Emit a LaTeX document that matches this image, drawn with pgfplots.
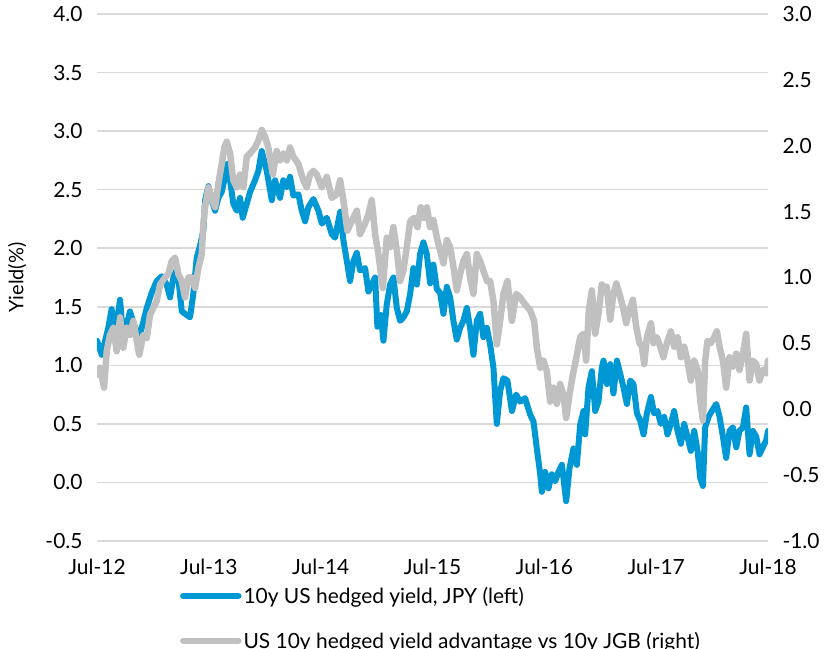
\documentclass[border=0pt]{standalone}
\usepackage{pgfplots}
\pgfplotsset{compat=1.18}
\usepackage{fontspec}
\setmainfont{Lato}
\definecolor{bl}{HTML}{0098D4}
\definecolor{gr}{HTML}{C0C0C0}
\definecolor{gridc}{HTML}{D9D9D9}
\pgfplotstableread{
t v
0.000 1.21
0.042 1.09
0.101 1.32
0.131 1.48
0.161 1.26
0.206 1.56
0.235 1.23
0.295 1.46
0.340 1.32
0.385 1.26
0.445 1.49
0.489 1.62
0.534 1.72
0.579 1.76
0.623 1.69
0.653 1.58
0.683 1.75
0.718 1.83
0.758 1.46
0.802 1.43
0.832 1.41
0.861 1.61
0.892 1.92
0.921 2.02
0.951 2.15
0.966 2.41
0.996 2.53
1.026 2.41
1.056 2.32
1.085 2.43
1.115 2.48
1.145 2.61
1.166 2.72
1.190 2.58
1.219 2.38
1.250 2.32
1.279 2.43
1.303 2.26
1.339 2.38
1.369 2.48
1.413 2.58
1.443 2.66
1.473 2.83
1.518 2.66
1.563 2.41
1.592 2.58
1.637 2.43
1.666 2.58
1.697 2.52
1.726 2.61
1.756 2.45
1.801 2.46
1.831 2.32
1.861 2.23
1.890 2.35
1.935 2.42
1.980 2.32
2.010 2.21
2.055 2.26
2.099 2.12
2.129 2.09
2.174 2.31
2.203 2.07
2.234 1.89
2.263 1.72
2.293 1.89
2.323 1.96
2.352 1.81
2.397 1.83
2.427 1.63
2.457 1.69
2.487 1.75
2.507 1.33
2.538 1.43
2.561 1.21
2.591 1.52
2.621 1.69
2.650 1.75
2.681 1.49
2.710 1.38
2.740 1.41
2.770 1.46
2.800 1.61
2.829 1.83
2.860 1.69
2.889 1.95
2.919 2.05
2.949 1.95
2.979 1.70
3.008 1.86
3.039 1.65
3.068 1.62
3.098 1.44
3.128 1.67
3.158 1.58
3.187 1.38
3.217 1.22
3.247 1.32
3.276 1.38
3.307 1.49
3.336 1.32
3.366 1.09
3.396 1.38
3.426 1.44
3.455 1.24
3.486 1.32
3.515 1.18
3.545 0.98
3.575 0.50
3.605 0.78
3.634 0.89
3.670 0.87
3.710 0.61
3.748 0.75
3.784 0.69
3.828 0.72
3.873 0.58
3.903 0.52
3.933 0.29
3.963 0.07
3.978 -0.08
4.007 0.09
4.037 -0.05
4.067 0.07
4.097 0.01
4.126 0.09
4.157 0.15
4.195 -0.16
4.225 0.12
4.260 0.29
4.291 0.15
4.320 0.49
4.350 0.61
4.365 0.41
4.395 0.81
4.425 0.95
4.455 0.61
4.484 0.69
4.514 0.98
4.529 1.04
4.559 0.84
4.589 1.01
4.618 0.76
4.649 1.04
4.678 0.93
4.708 0.81
4.738 0.67
4.768 0.87
4.797 0.84
4.828 0.59
4.857 0.53
4.887 0.41
4.917 0.59
4.953 0.73
4.982 0.59
5.012 0.61
5.042 0.50
5.072 0.56
5.101 0.41
5.131 0.50
5.161 0.61
5.191 0.44
5.221 0.33
5.250 0.50
5.280 0.39
5.310 0.27
5.340 0.44
5.370 0.27
5.394 0.04
5.418 -0.03
5.438 0.47
5.468 0.56
5.498 0.61
5.537 0.67
5.567 0.56
5.597 0.39
5.626 0.21
5.656 0.44
5.686 0.47
5.716 0.30
5.745 0.44
5.776 0.47
5.805 0.64
5.835 0.24
5.865 0.44
5.895 0.39
5.924 0.24
5.954 0.30
5.984 0.36
6.000 0.44
}\bluedata
\pgfplotstableread{
t v
0.000 0.262
0.027 0.315
0.063 0.164
0.087 0.440
0.116 0.564
0.146 0.618
0.176 0.440
0.206 0.698
0.235 0.467
0.266 0.618
0.295 0.564
0.325 0.671
0.355 0.520
0.378 0.413
0.414 0.564
0.445 0.538
0.474 0.716
0.504 0.769
0.534 0.822
0.564 0.947
0.608 1.000
0.638 1.027
0.668 1.124
0.698 1.151
0.727 1.027
0.758 0.973
0.787 0.849
0.817 1.000
0.847 1.000
0.877 0.920
0.906 1.071
0.937 1.178
0.951 1.409
0.966 1.533
0.996 1.684
1.026 1.604
1.056 1.533
1.085 1.711
1.115 1.862
1.139 1.987
1.160 2.031
1.190 1.942
1.219 1.738
1.250 1.684
1.279 1.782
1.309 1.684
1.339 1.916
1.369 1.942
1.413 1.987
1.443 2.040
1.473 2.120
1.503 2.067
1.532 1.987
1.572 1.782
1.607 1.960
1.637 1.889
1.666 1.942
1.697 1.889
1.726 1.987
1.756 1.916
1.801 1.862
1.845 1.738
1.876 1.684
1.905 1.782
1.935 1.809
1.965 1.782
2.010 1.684
2.055 1.764
2.099 1.604
2.144 1.631
2.174 1.738
2.203 1.587
2.239 1.355
2.278 1.427
2.323 1.507
2.352 1.329
2.397 1.409
2.427 1.480
2.457 1.587
2.487 1.329
2.516 1.178
2.556 0.920
2.591 1.302
2.621 1.231
2.650 1.382
2.681 1.204
2.710 0.973
2.740 1.053
2.770 1.231
2.800 1.427
2.836 1.453
2.865 1.382
2.895 1.533
2.925 1.453
2.949 1.533
2.979 1.382
3.008 1.436
3.039 1.302
3.068 1.204
3.098 1.107
3.128 1.284
3.158 1.231
3.187 1.080
3.217 0.902
3.247 1.027
3.276 1.124
3.307 1.178
3.336 1.000
3.366 0.876
3.396 1.178
3.426 1.124
3.455 1.053
3.486 0.973
3.515 0.973
3.545 0.822
3.575 0.493
3.605 0.671
3.634 0.876
3.670 0.973
3.710 0.671
3.748 0.876
3.784 0.849
3.828 0.795
3.873 0.751
3.909 0.671
3.933 0.467
3.963 0.315
3.992 0.369
4.022 0.289
4.052 0.058
4.081 0.164
4.112 0.040
4.141 0.191
4.171 0.111
4.195 -0.067
4.225 0.111
4.255 0.262
4.291 0.413
4.320 0.547
4.350 0.573
4.374 0.369
4.398 0.751
4.425 0.902
4.455 0.573
4.484 0.724
4.514 0.947
4.529 0.929
4.559 0.929
4.589 0.680
4.618 0.876
4.643 0.955
4.672 0.876
4.702 0.778
4.732 0.653
4.761 0.751
4.792 0.831
4.821 0.627
4.851 0.502
4.872 0.475
4.893 0.342
4.917 0.547
4.953 0.653
4.976 0.502
5.006 0.547
5.036 0.475
5.065 0.395
5.096 0.502
5.131 0.591
5.161 0.475
5.191 0.547
5.221 0.395
5.250 0.475
5.280 0.369
5.310 0.218
5.340 0.369
5.370 0.298
5.394 0.067
5.418 -0.084
5.438 0.369
5.459 0.520
5.489 0.502
5.519 0.547
5.543 0.591
5.567 0.475
5.597 0.369
5.626 0.164
5.656 0.395
5.686 0.324
5.716 0.422
5.745 0.298
5.776 0.422
5.805 0.573
5.835 0.218
5.865 0.369
5.895 0.342
5.924 0.218
5.954 0.298
5.984 0.271
6.000 0.369
}\graydata
\begin{document}
\begin{tikzpicture}[font=\fontsize{21}{25}\selectfont]
\pgfplotsset{
  common/.style={
    scale only axis, width=671bp, height=527bp,
    xmin=0, xmax=6,
    axis line style={draw=none},
    major tick style={draw=none},
    minor tick style={draw=none},
    /pgf/number format/assume math mode=true,
    yticklabel style={/pgf/number format/fixed, /pgf/number format/fixed zerofill, /pgf/number format/precision=1},
    tick label style={font=\fontsize{21}{25}\selectfont},
  }
}
\begin{axis}[common, name=ax1,
  ymin=-0.5, ymax=4,
  ytick={-0.5,0,0.5,1,1.5,2,2.5,3,3.5,4},
  ymajorgrids, grid style={color=gridc, line width=1.5bp},
  xtick={0,1,2,3,4,5,6},
  xticklabels={Jul-12,Jul-13,Jul-14,Jul-15,Jul-16,Jul-17,Jul-18},
  xticklabel style={yshift=-15bp},
  yticklabel style={xshift=-11bp},
  ylabel={Yield(\%)},
  ylabel style={at={(rel axis cs:-0.1192,0.5)}, anchor=center, font=\fontsize{20}{24}\selectfont},
]
\addplot[color=bl, line width=6bp, line join=round, line cap=round] table[x=t,y=v]{\bluedata};
\end{axis}
\begin{axis}[common,
  ymin=-1, ymax=3,
  axis y line*=right, axis x line=none,
  ytick={-1,-0.5,0,0.5,1,1.5,2,2.5,3},
  yticklabel style={xshift=11bp},
  legend style={at={(rel axis cs:0.1235,0)}, anchor=north west, yshift=-44bp,
    draw=none, fill=none, inner sep=0pt, row sep=23bp,
    font=\fontsize{21}{25}\selectfont,
    nodes={inner sep=2bp, anchor=west}},
  legend cell align=left,
  legend image code/.code={\draw[#1, line cap=round] (0bp,0bp) -- (55bp,0bp);},
]
\addlegendimage{color=bl, line width=6.5bp}
\addlegendentry{10y US hedged yield, JPY (left)}
\addplot[color=gr, line width=6.5bp, line join=round, line cap=round] table[x=t,y=v]{\graydata};
\addlegendentry{US 10y hedged yield advantage vs 10y JGB (right)}
\end{axis}
\pgfresetboundingbox
\path[use as bounding box] ([shift={(-97bp,-108bp)}]ax1.south west) rectangle ([shift={(58bp,14bp)}]ax1.north east);
\end{tikzpicture}
\end{document}
